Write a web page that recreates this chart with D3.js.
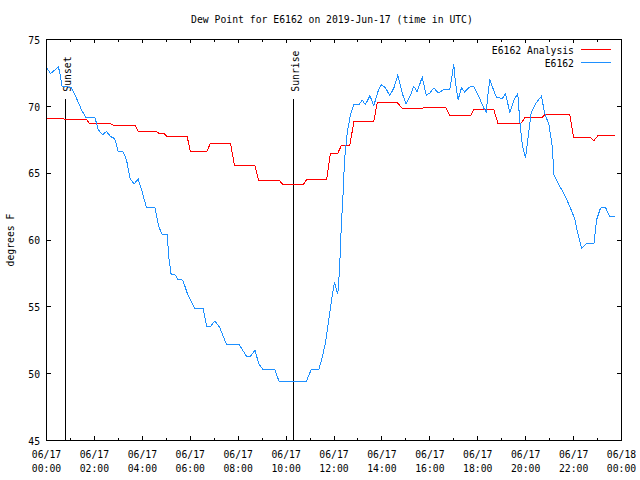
<!DOCTYPE html>
<html>
<head>
<meta charset="utf-8">
<script src="https://cdn.jsdelivr.net/npm/d3@7"></script>
<style>
  html, body { margin: 0; padding: 0; background: #fff; }
  svg { display: block; }
  text { font-family: "DejaVu Sans Mono", "Liberation Mono", monospace; fill: #000; }
</style>
</head>
<body>
<svg id="chart" width="640" height="480"></svg>
<script>
// ---------- data ----------
const titleText = "Dew Point for E6162 on 2019-Jun-17 (time in UTC)";
const yLabel = "degrees F";
const seriesNames = ["E6162 Analysis", "E6162"];

// Analysis (hour of day UTC, dew point F)
const anaHours = [0.00,0.70,0.80,1.67,1.81,2.70,2.78,3.69,3.83,4.59,4.70,4.90,5.02,5.87,6.01,6.68,6.85,7.68,7.85,8.70,8.86,9.73,9.88,10.71,10.85,11.69,11.85,12.16,12.31,12.66,12.83,13.66,13.80,14.66,14.85,15.68,15.79,16.65,16.83,17.70,17.84,18.67,18.84,19.81,19.99,20.70,20.80,21.84,22.00,22.70,22.85,23.01,23.71];
const anaValues = [69.08,69.08,69.00,69.00,68.68,68.68,68.60,68.60,68.10,68.10,67.98,67.98,67.75,67.75,66.60,66.60,67.25,67.25,65.55,65.55,64.43,64.43,64.13,64.13,64.50,64.50,66.50,66.50,67.08,67.08,68.85,68.85,70.25,70.25,69.83,69.83,69.95,69.95,69.30,69.30,69.75,69.75,68.75,68.75,69.20,69.20,69.38,69.38,67.70,67.70,67.43,67.80,67.80];

// Observed station E6162
const obsHours = [0.03,0.17,0.49,0.55,0.65,0.77,0.90,1.04,1.25,1.46,1.64,2.02,2.16,2.34,2.50,2.67,2.85,2.99,3.20,3.34,3.48,3.65,3.83,3.97,4.17,4.52,4.69,4.83,5.04,5.11,5.20,5.38,5.48,5.69,5.87,6.08,6.19,6.54,6.68,6.85,7.03,7.23,7.51,8.03,8.35,8.51,8.70,8.86,9.03,9.53,9.70,10.85,11.05,11.37,11.51,11.65,11.78,11.92,12.02,12.10,12.16,12.23,12.31,12.38,12.44,12.55,12.69,12.83,13.04,13.18,13.31,13.50,13.66,13.84,13.98,14.15,14.33,14.50,14.66,14.78,14.89,15.01,15.19,15.33,15.47,15.68,15.85,16.00,16.17,16.35,16.58,16.83,16.93,17.00,17.07,17.18,17.32,17.45,17.67,17.84,18.04,18.25,18.35,18.42,18.50,18.60,18.78,19.02,19.16,19.34,19.53,19.67,19.76,19.86,19.99,20.09,20.23,20.41,20.66,20.79,20.97,21.11,21.18,21.39,21.66,21.87,22.04,22.18,22.33,22.54,22.85,22.96,23.12,23.33,23.51,23.71];
const obsValues = [72.83,72.45,72.93,72.60,71.50,71.50,71.45,71.40,70.60,69.75,69.17,69.17,68.25,67.87,68.12,67.75,67.58,66.62,66.58,66.00,64.63,64.20,64.55,63.75,62.45,62.45,61.00,60.38,60.38,58.63,57.45,57.38,57.05,57.00,56.05,55.25,54.88,54.88,53.55,53.55,53.95,53.45,52.20,52.20,51.30,51.30,51.75,50.75,50.33,50.33,49.45,49.45,50.30,50.30,51.25,52.38,54.00,55.75,56.88,56.25,56.00,57.75,61.25,63.50,66.00,68.00,69.38,70.13,70.13,70.45,70.13,70.80,70.05,71.13,71.63,71.38,70.80,71.38,72.32,71.50,70.75,70.18,70.83,71.50,71.08,72.18,70.83,71.00,71.38,71.00,71.25,71.25,72.33,73.13,71.75,70.50,71.38,71.08,71.45,71.45,70.75,69.88,69.58,70.75,72.00,71.50,70.68,70.58,70.93,69.55,70.55,70.93,68.80,67.13,66.13,67.50,69.50,70.20,70.75,69.50,68.63,67.00,64.88,64.13,63.25,62.38,61.63,60.45,59.38,59.75,59.75,61.50,62.38,62.45,61.75,61.75];

// Sun events
const eventNames = ["Sunset", "Sunrise"];
const eventHours = [0.806, 10.32];

// Axis ticks
const xTickHours = [0,2,4,6,8,10,12,14,16,18,20,22,24];
const xMinorHours = [1,3,5,7,9,11,13,15,17,19,21,23];
const xTickDates = ["06/17","06/17","06/17","06/17","06/17","06/17","06/17","06/17","06/17","06/17","06/17","06/17","06/18"];
const xTickTimes = ["00:00","02:00","04:00","06:00","08:00","10:00","12:00","14:00","16:00","18:00","20:00","22:00","00:00"];
const yTicks = [45,50,55,60,65,70,75];

const colors = ["#ff0000", "#1e90ff"];

// ---------- layout ----------
const L = 46, R = 621, T = 39, B = 440;
const CW = 5.87;   // char advance of the reference font
const FS = 11;

const svg = d3.select("#chart");
const x = d3.scaleLinear().domain([0, 24]).range([L, R]);
const y = d3.scaleLinear().domain([45, 75]).range([B, T]);

function fitText(sel) {
  sel.each(function () {
    const t = d3.select(this).text();
    d3.select(this).attr("textLength", t.length * CW).attr("lengthAdjust", "spacingAndGlyphs");
  });
  return sel;
}

// title
svg.append("text").attr("x", 332).attr("y", 23).attr("text-anchor", "middle")
  .attr("font-size", FS).text(titleText).call(fitText);

// y label
svg.append("text").attr("transform", "translate(14,240) rotate(-90)")
  .attr("text-anchor", "middle").attr("font-size", FS).text(yLabel).call(fitText);

// axes
const axisStyle = g => {
  g.select(".domain").remove();
  g.selectAll(".tick line").attr("stroke", "#000").attr("shape-rendering", "crispEdges");
};

svg.append("g").attr("transform", `translate(0,${B})`)
  .call(d3.axisBottom(x).tickValues(xTickHours).tickSize(-4).tickFormat(() => ""))
  .call(axisStyle)
  .call(g => {
    g.selectAll(".tick text").remove();
    g.selectAll(".tick").each(function (d, i) {
      const tk = d3.select(this);
      tk.append("text").attr("y", 18.3).attr("text-anchor", "middle").attr("font-size", FS)
        .attr("fill", "#000").attr("stroke", "none").text(xTickDates[i]).call(fitText);
      tk.append("text").attr("y", 31.7).attr("text-anchor", "middle").attr("font-size", FS)
        .attr("fill", "#000").attr("stroke", "none").text(xTickTimes[i]).call(fitText);
    });
  });
svg.append("g").attr("transform", `translate(0,${B})`)
  .call(d3.axisBottom(x).tickValues(xMinorHours).tickSize(-2.5).tickFormat(() => ""))
  .call(axisStyle);
svg.append("g").attr("transform", `translate(0,${T})`)
  .call(d3.axisTop(x).tickValues(xTickHours).tickSize(-4).tickFormat(() => ""))
  .call(axisStyle);
svg.append("g").attr("transform", `translate(0,${T})`)
  .call(d3.axisTop(x).tickValues(xMinorHours).tickSize(-2.5).tickFormat(() => ""))
  .call(axisStyle);

svg.append("g").attr("transform", `translate(${L},0)`)
  .call(d3.axisLeft(y).tickValues(yTicks).tickSize(-4.5).tickPadding(6).tickFormat(d3.format("d")))
  .call(axisStyle)
  .call(g => g.selectAll(".tick text").attr("font-size", FS).attr("font-family", null)
    .attr("dy", null).attr("y", 4.2).call(fitText));
svg.append("g").attr("transform", `translate(${R},0)`)
  .call(d3.axisRight(y).tickValues(yTicks).tickSize(-4.5).tickFormat(() => ""))
  .call(axisStyle);

// frame
svg.append("rect").attr("x", L + 0.5).attr("y", T + 0.5)
  .attr("width", R - L).attr("height", B - T)
  .attr("fill", "none").attr("stroke", "#000").attr("shape-rendering", "crispEdges");

// sun event lines
eventNames.forEach((name, i) => {
  const ex = Math.round(x(eventHours[i])) + 0.5;
  svg.append("line").attr("x1", ex).attr("x2", ex).attr("y1", 99).attr("y2", B)
    .attr("stroke", "#000").attr("shape-rendering", "crispEdges");
  svg.append("text").attr("transform", `translate(${ex + 5},91.7) rotate(-90)`)
    .attr("font-size", FS).text(name).call(fitText);
});

// series
const line = d3.line().x(d => x(d[0]) + 0.5).y(d => y(d[1]) + 0.5);
const anaData = anaHours.map((h, i) => [h, anaValues[i]]);
const obsData = obsHours.map((h, i) => [h, obsValues[i]]);

svg.append("path").datum(anaData).attr("d", line)
  .attr("fill", "none").attr("stroke", colors[0]).attr("stroke-width", 1)
  .attr("shape-rendering", "crispEdges");
svg.append("path").datum(obsData).attr("d", line)
  .attr("fill", "none").attr("stroke", colors[1]).attr("stroke-width", 1)
  .attr("shape-rendering", "crispEdges");

// legend
const legY = [49.5, 62.5];
seriesNames.forEach((name, i) => {
  svg.append("text").attr("x", 574).attr("y", legY[i] + 4.5).attr("text-anchor", "end")
    .attr("font-size", FS).text(name).call(fitText);
  svg.append("line").attr("x1", 581).attr("x2", 611).attr("y1", legY[i]).attr("y2", legY[i])
    .attr("stroke", colors[i]).attr("shape-rendering", "crispEdges");
});
</script>
</body>
</html>
